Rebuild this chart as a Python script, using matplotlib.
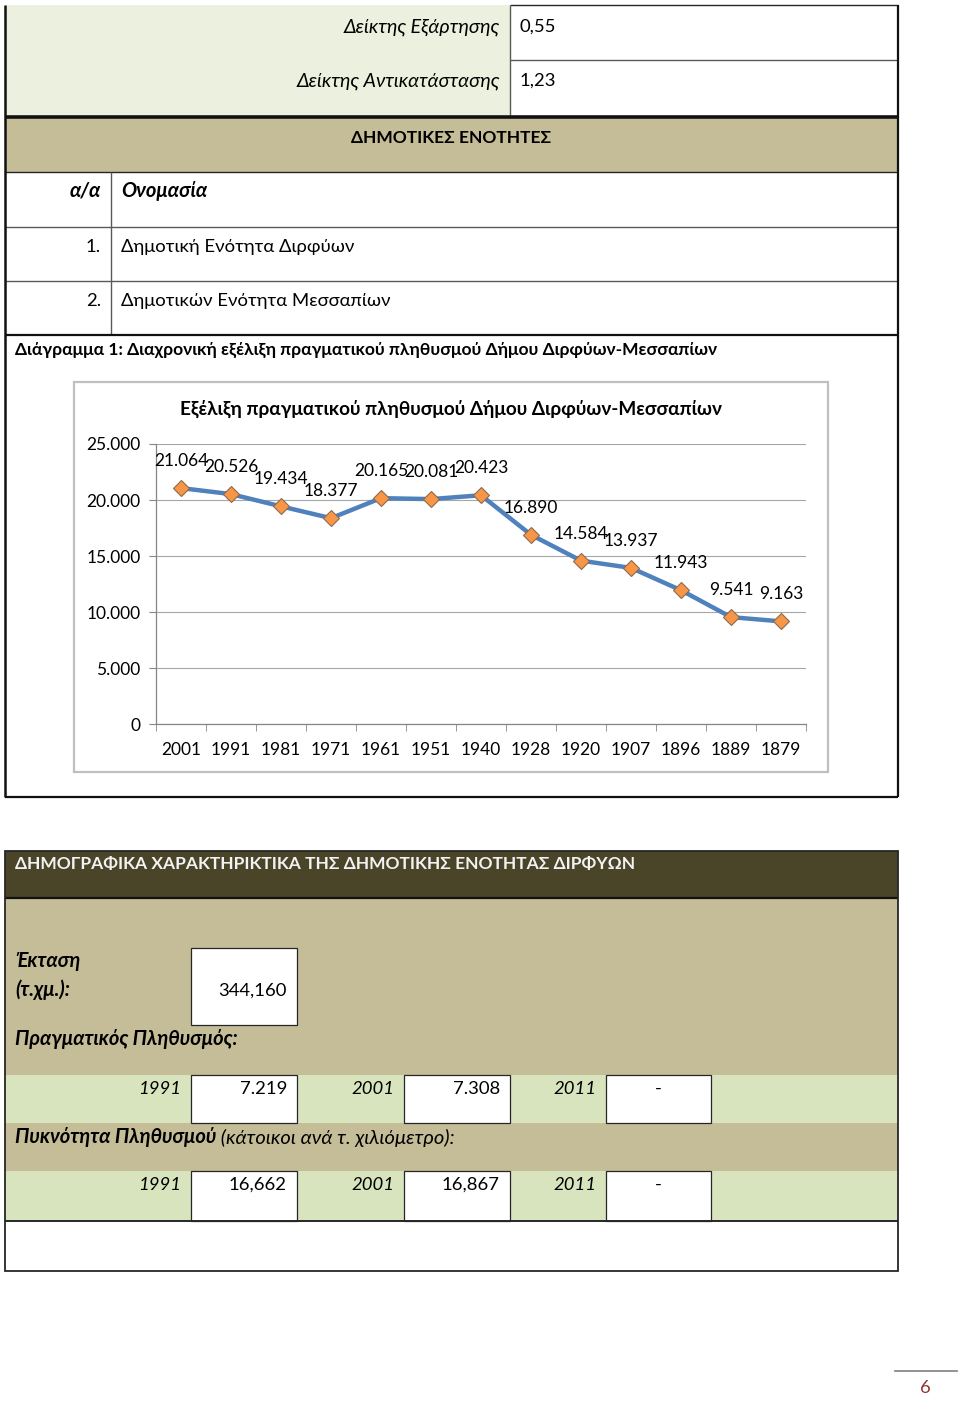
import matplotlib.pyplot as plt
from matplotlib.patches import Rectangle

plt.rcParams['font.family'] = ['Lato', 'DejaVu Sans']

# chart data
years = ['2001', '1991', '1981', '1971', '1961', '1951', '1940',
         '1928', '1920', '1907', '1896', '1889', '1879']
population = [21064, 20526, 19434, 18377, 20165, 20081, 20423,
              16890, 14584, 13937, 11943, 9541, 9163]
yticks = [0, 5000, 10000, 15000, 20000, 25000]

# table data
index_labels = ['Δείκτης Εξάρτησης', 'Δείκτης Αντικατάστασης']
index_values = ['0,55', '1,23']
units = ['Δημοτική Ενότητα Διρφύων', 'Δημοτικών Ενότητα Μεσσαπίων']
census_years = ['1991', '2001', '2011']
real_pop = ['7.219', '7.308', '-']
density = ['16,662', '16,867', '-']
area = '344,160'

FS = 13.3    # regular
FS_I = 14.2  # italic greek
FS_BI = 14.5  # bold italic
FS_BC = 12.5  # bold caps


def fmt(v):
    return '{:,}'.format(v).replace(',', '.')


fig = plt.figure(figsize=(9.6, 14.01), dpi=100)
page = fig.add_axes([0, 0, 1, 1])
page.set_xlim(0, 960)
page.set_ylim(1401, 0)
page.axis('off')

GREEN_L = '#EBF1DE'
GREEN = '#D7E4BD'
TAN = '#C4BD97'
DARK = '#4A4429'
EDGE = '#262626'


def box(x0, y0, x1, y1, fc='none', ec='none', lw=0, z=1):
    page.add_patch(Rectangle((x0, y0), x1 - x0, y1 - y0, facecolor=fc,
                             edgecolor=ec, linewidth=lw, zorder=z))


def hline(y, x0=5, x1=898, lw=1.0, c=EDGE):
    page.plot([x0, x1], [y, y], color=c, lw=lw, zorder=3, solid_capstyle='butt')


def vline(x, y0, y1, lw=1.0, c=EDGE):
    page.plot([x, x], [y0, y1], color=c, lw=lw, zorder=3, solid_capstyle='butt')


def txt(x, y, s, ha='left', size=FS, **kw):
    return page.text(x, y, s, ha=ha, va='baseline', fontsize=size, zorder=4, **kw)


# ---- top table ----
box(5, 5, 510, 115, fc=GREEN_L)
hline(5, 510, 898)
hline(60, 510, 898, c='#595959')
vline(510, 5, 115, c='#595959')
for i, (lab, val) in enumerate(zip(index_labels, index_values)):
    y = 32 + i * 54
    txt(500, y, lab, ha='right', style='italic', size=FS_I)
    txt(520, y, val)

hline(116.5, lw=2.6, c='#111111')
box(5, 118, 898, 172, fc=TAN)
txt(451, 143, 'ΔΗΜΟΤΙΚΕΣ ΕΝΟΤΗΤΕΣ', ha='center', weight='bold', size=FS_BC)
hline(172)
txt(101, 197, 'α/α', ha='right', weight='bold', style='italic', size=FS_BI)
txt(121, 197, 'Ονομασία', weight='bold', style='italic', size=FS_BI)
hline(227, c='#595959')
hline(281, c='#595959')
vline(111, 172, 335, c='#595959')
for i, name in enumerate(units):
    y = 252 + i * 54
    txt(101, y, '{}.'.format(i + 1), ha='right')
    txt(121, y, name)
hline(335, lw=1.6, c='#111111')
txt(15, 355, 'Διάγραμμα 1: Διαχρονική εξέλιξη πραγματικού πληθυσμού Δήμου Διρφύων-Μεσσαπίων',
    size=12.5, weight='bold')

vline(5, 5, 797, lw=1.8, c='#111111')
vline(898, 5, 797, lw=1.6, c='#111111')
hline(797, lw=1.6, c='#111111')

# chart frame
box(74, 382, 828, 772, fc='white', ec='#BFBFBF', lw=1.6, z=2)
page.text(451, 415, 'Εξέλιξη πραγματικού πληθυσμού Δήμου Διρφύων-Μεσσαπίων',
          ha='center', va='baseline', fontsize=13.7, weight='bold', zorder=4)

# ---- line chart ----
ax = fig.add_axes([156 / 960, 1 - 724 / 1401, 650 / 960, 280 / 1401])
ax.set_facecolor('none')
x = list(range(len(years)))
ax.plot(x, population, color='#4F81BD', lw=3.2, marker='D', ms=8.5,
        mfc='#F79646', mec='#8C6A4F', mew=0.8, zorder=3)
for xi, v in zip(x, population):
    ax.annotate(fmt(v), (xi, v), xytext=(0, 27), textcoords='offset pixels',
                ha='center', va='center', fontsize=12.5)
ax.set_xlim(-0.5, len(years) - 0.5)
ax.set_ylim(0, 25000)
ax.set_yticks(yticks)
ax.set_yticklabels([fmt(t) for t in yticks], fontsize=12.5)
ax.set_xticks(x)
ax.set_xticklabels(years, fontsize=12.5)
ax.set_xticks([i - 0.5 for i in range(len(years) + 1)], minor=True)
ax.tick_params(axis='x', which='major', length=0, pad=13)
ax.tick_params(axis='x', which='minor', length=5, color='#868686', direction='out')
ax.tick_params(axis='y', length=5, color='#868686', pad=6)
ax.grid(axis='y', color='#A6A6A6', lw=0.8)
ax.set_axisbelow(True)
for s in ['top', 'right']:
    ax.spines[s].set_visible(False)
for s in ['left', 'bottom']:
    ax.spines[s].set_color('#868686')
    ax.spines[s].set_linewidth(0.9)

# ---- bottom table ----
box(5, 851, 898, 898, fc=DARK)
txt(15, 869, 'ΔΗΜΟΓΡΑΦΙΚΑ ΧΑΡΑΚΤΗΡΙΚΤΙΚΑ ΤΗΣ ΔΗΜΟΤΙΚΗΣ ΕΝΟΤΗΤΑΣ ΔΙΡΦΥΩΝ',
    color='#F2F2F2', weight='bold', size=FS_BC)
box(5, 898, 898, 1075, fc=TAN)
hline(898, lw=1.6, c='#111111')
box(191, 948, 297, 1025, fc='white', ec=EDGE, lw=0.9, z=2)
txt(15, 967, 'Έκταση', weight='bold', style='italic', size=FS_BI)
txt(15, 996, '(τ.χμ.):', weight='bold', style='italic', size=FS_BI)
txt(287, 996, area, ha='right')
txt(15, 1045, 'Πραγματικός Πληθυσμός:', weight='bold', style='italic', size=FS_BI)

box(5, 1075, 898, 1123, fc=GREEN)
box(5, 1123, 898, 1171, fc=TAN)
box(5, 1171, 898, 1221, fc=GREEN)
cols = [(191, 297), (404, 510), (606, 711)]
for row_y, vals in [(1075, real_pop), (1171, density)]:
    h = 48 if row_y == 1075 else 50
    for (c0, c1), yr, v in zip(cols, census_years, vals):
        box(c0, row_y, c1, row_y + h, fc='white', ec=EDGE, lw=0.9, z=2)
        txt(c0 - 10, row_y + 19, yr, ha='right', style='italic')
        if v == '-':
            txt((c0 + c1) / 2, row_y + 19, v, ha='center')
        else:
            txt(c1 - 10, row_y + 19, v, ha='right')

t1 = txt(15, 1143, 'Πυκνότητα Πληθυσμού', weight='bold', style='italic', size=FS_BI)
page.annotate(' (κάτοικοι ανά τ. χιλιόμετρο):', xy=(1, 0), xycoords=t1,
              va='bottom', ha='left', fontsize=FS_BI, style='italic', zorder=4)

hline(1221, lw=1.4, c='#262626')
box(5, 851, 898, 1271, ec='#262626', lw=1.3, z=3)

# page number
page.plot([895, 957], [1371, 1371], color='#7F7F7F', lw=1.2)
page.text(925, 1393, '6', ha='center', va='baseline', fontsize=FS, color='#943634')

fig.savefig('out.png', dpi=100)
